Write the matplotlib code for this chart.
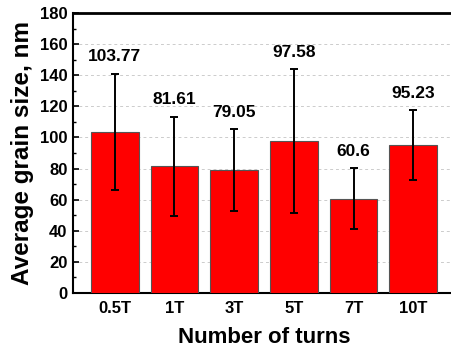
import matplotlib
matplotlib.use("Agg")
import matplotlib.pyplot as plt
from matplotlib.ticker import MultipleLocator
import numpy as np

categories = ["0.5T", "1T", "3T", "5T", "7T", "10T"]
values = [103.77, 81.61, 79.05, 97.58, 60.6, 95.23]
errors = [37.3, 31.8, 26.3, 46.2, 19.6, 22.5]
labels = ["103.77", "81.61", "79.05", "97.58", "60.6", "95.23"]

plt.rcParams['font.family'] = ['Liberation Sans', 'DejaVu Sans']
plt.rcParams['font.weight'] = 'bold'

fig = plt.figure(figsize=(4.52, 3.53), dpi=100)
ax = fig.add_axes([73/452, 60/353, (455-73)/452, 280/353])

x = np.arange(1, len(categories) + 1)
ax.bar(x, values, width=0.8, color='#ff0000', edgecolor='#555555', linewidth=0.8, zorder=3)
ax.errorbar(x, values, yerr=errors, fmt='none', ecolor='black', elinewidth=1.4,
            capsize=3, capthick=1.4, zorder=4)
for xi, v, e, t in zip(x, values, errors, labels):
    ax.text(xi, v + e + 6, t, ha='center', va='bottom', fontsize=12.5, fontweight='bold')

ax.set_xlim(0.3, 6.7)
ax.set_ylim(0, 180)
ax.yaxis.set_major_locator(MultipleLocator(20))
ax.yaxis.set_minor_locator(MultipleLocator(10))
ax.set_xticks(x)
ax.set_xticklabels(categories)
ax.tick_params(axis='x', length=0, labelsize=12, pad=6)
ax.tick_params(axis='y', which='major', direction='in', length=4, width=1.2, labelsize=12, pad=4)
ax.tick_params(axis='y', which='minor', direction='in', length=2.5, width=1.0)
for lab in ax.get_xticklabels() + ax.get_yticklabels():
    lab.set_fontweight('bold')

ax.grid(axis='y', which='major', linestyle=(0, (3, 3)), color='#cccccc', linewidth=0.7, zorder=0)
ax.set_axisbelow(True)
for s in ['left', 'bottom']:
    ax.spines[s].set_linewidth(1.5)
ax.spines['top'].set_linewidth(2)
ax.spines['right'].set_linewidth(2)

ax.set_xlabel("Number of turns", fontsize=16, fontweight='bold', labelpad=8)
ax.set_ylabel("Average grain size, nm", fontsize=17.5, fontweight='bold', labelpad=4)

fig.savefig("out.png", dpi=100)
